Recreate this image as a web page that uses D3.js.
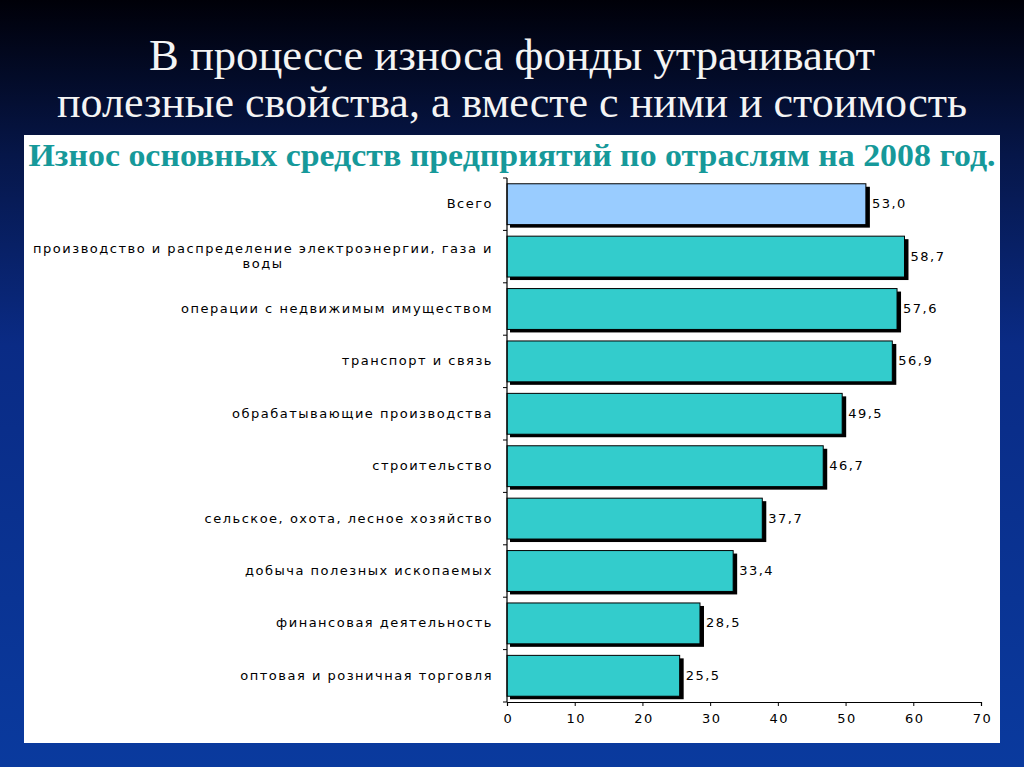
<!DOCTYPE html>
<html><head><meta charset="utf-8">
<script src="https://cdn.jsdelivr.net/npm/d3@7"></script>
<style>html,body{margin:0;padding:0;background:#000;}svg{display:block;}</style>
</head><body>
<script>
const categories = [
  "Всего",
  "производство и распределение электроэнергии, газа и|воды",
  "операции с недвижимым имуществом",
  "транспорт и связь",
  "обрабатывающие производства",
  "строительство",
  "сельское, охота, лесное хозяйство",
  "добыча полезных ископаемых",
  "финансовая деятельность",
  "оптовая и розничная торговля"
];
const values = [53.0, 58.7, 57.6, 56.9, 49.5, 46.7, 37.7, 33.4, 28.5, 25.5];
const valueLabels = ["53,0","58,7","57,6","56,9","49,5","46,7","37,7","33,4","28,5","25,5"];
const xTicks = [0,10,20,30,40,50,60,70];
const titleLines = ["В процессе износа фонды утрачивают", "полезные свойства, а вместе с ними и стоимость"];
const subtitle = "Износ основных средств предприятий по отраслям на 2008 год.";

const W = 1024, H = 767;
const svg = d3.select("body").append("svg").attr("width", W).attr("height", H);
const defs = svg.append("defs");
const g = defs.append("linearGradient").attr("id","bg").attr("x1",0).attr("y1",0).attr("x2",0).attr("y2",1);
g.append("stop").attr("offset","0%").attr("stop-color","#000008");
g.append("stop").attr("offset","20%").attr("stop-color","#061648");
g.append("stop").attr("offset","45%").attr("stop-color","#0a2b85");
g.append("stop").attr("offset","100%").attr("stop-color","#0a3a9e");
svg.append("rect").attr("width",W).attr("height",H).attr("fill","url(#bg)");

// titles
const titleW = [726, 910];
svg.selectAll("text.title").data(titleLines).join("text")
  .attr("class","title")
  .attr("x", 512).attr("y",(d,i)=>70+i*47)
  .attr("text-anchor","middle")
  .attr("font-family","Liberation Serif, serif")
  .attr("font-size",44)
  .attr("fill","#f4f4f4")
  .attr("textLength",(d,i)=>titleW[i]).attr("lengthAdjust","spacingAndGlyphs")
  .text(d=>d);

// white panel
svg.append("rect").attr("x",24).attr("y",135).attr("width",976).attr("height",608).attr("fill","#ffffff");

svg.append("text").attr("x",512).attr("y",166).attr("text-anchor","middle")
  .attr("font-family","Liberation Serif, serif").attr("font-weight","bold")
  .attr("font-size",32).attr("fill","#16999a")
  .attr("textLength",967).attr("lengthAdjust","spacingAndGlyphs")
  .text(subtitle);

const x = d3.scaleLinear().domain([0,70]).range([507,981]);
const y = d3.scaleBand().domain(categories).range([178,702]).paddingInner(0.22).paddingOuter(0.11);

const labelFont = "DejaVu Sans, Verdana, sans-serif";
const fs = 13, ls = "1.5px";

// bars: shadow then bar
const bars = svg.append("g");
bars.selectAll("rect.sh").data(values).join("rect")
  .attr("x", x(0)+3).attr("y",(d,i)=>y(categories[i])+3)
  .attr("width", d=>x(d)-x(0)+1).attr("height", y.bandwidth())
  .attr("fill","#000");
bars.selectAll("rect.bar").data(values).join("rect")
  .attr("class","bar")
  .attr("x", x(0)).attr("y",(d,i)=>y(categories[i]))
  .attr("width", d=>x(d)-x(0)).attr("height", y.bandwidth())
  .attr("fill",(d,i)=> i===0 ? "#99ccff" : "#33cccc")
  .attr("stroke","#000").attr("stroke-width",1);

// value labels
svg.selectAll("text.val").data(values).join("text")
  .attr("x", d=>x(d)+6).attr("y",(d,i)=>y(categories[i])+y.bandwidth()/2+4)
  .attr("font-family",labelFont).attr("font-size",fs).attr("letter-spacing",ls)
  .attr("fill","#000")
  .text((d,i)=>valueLabels[i]);

// x axis
const xAxis = svg.append("g").attr("transform","translate(0,702)")
  .call(d3.axisBottom(x).tickValues(xTicks).tickSize(4).tickFormat(d3.format("d")));
xAxis.select(".domain").attr("stroke","#000").attr("stroke-width",1.2);
xAxis.selectAll(".tick line").attr("stroke","#000");
xAxis.selectAll(".tick text").attr("font-family",labelFont).attr("font-size",fs)
  .attr("letter-spacing",ls).attr("fill","#000").attr("dy","1.05em").attr("dx","1px");

// y axis line and ticks at band boundaries
svg.append("line").attr("x1",507).attr("x2",507).attr("y1",178).attr("y2",702).attr("stroke","#000").attr("stroke-width",1.2);
const step = y.step();
svg.selectAll("line.yt").data(d3.range(categories.length+1)).join("line")
  .attr("x1",503).attr("x2",507)
  .attr("y1",i=> i===categories.length ? 702 : y(categories[i]) - (step - y.bandwidth())/2)
  .attr("y2",i=> i===categories.length ? 702 : y(categories[i]) - (step - y.bandwidth())/2)
  .attr("stroke","#000");

// category labels
const lab = svg.append("g");
categories.forEach((c,i)=>{
  const lines = c.split("|");
  const cy = y(c)+y.bandwidth()/2;
  const t = lab.append("text").attr("font-family",labelFont).attr("font-size",fs)
    .attr("letter-spacing",ls).attr("fill","#000");
  if(lines.length===1){
    t.attr("x",493).attr("y",cy+4).attr("text-anchor","end").text(c);
  } else {
    t.attr("x",493).attr("y",cy-4).attr("text-anchor","end").text(lines[0]);
    const w = t.node().getComputedTextLength();
    lab.append("text").attr("font-family",labelFont).attr("font-size",fs)
      .attr("letter-spacing",ls).attr("fill","#000")
      .attr("x",493-w/2).attr("y",cy+11).attr("text-anchor","middle").text(lines[1]);
  }
});
</script>
</body></html>
